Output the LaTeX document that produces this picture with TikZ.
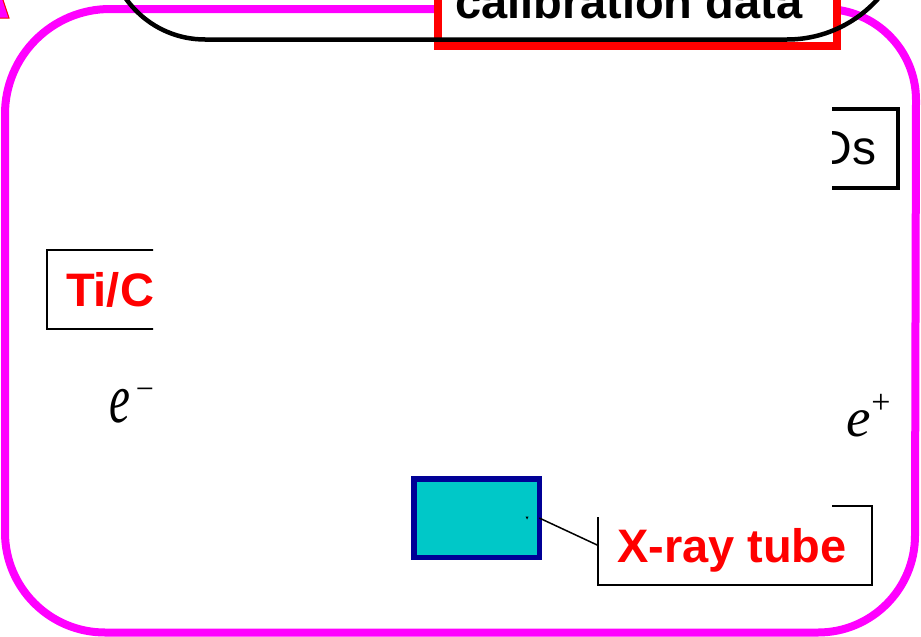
\documentclass[tikz,border=0pt]{standalone}
\usepackage{fontspec}
\setmainfont{Liberation Serif}
\setsansfont{Liberation Sans}
\usepackage{graphicx}
\definecolor{framemag}{RGB}{255,0,255}
\definecolor{labelred}{RGB}{255,0,0}
\definecolor{tubecyan}{RGB}{0,200,200}
\definecolor{tubenavy}{RGB}{0,0,150}
\tikzset{
  frame/.style={draw=framemag, line width=8},
  calibrim/.style={draw=black, line width=4.5},
  bigsans/.style={font=\sffamily\bfseries\fontsize{47pt}{50pt}\selectfont},
  plainsans/.style={font=\sffamily\fontsize{48pt}{50pt}\selectfont},
  calbox/.style={bigsans, draw=labelred, line width=8, fill=white, text=black,
    inner xsep=0, inner ysep=0, outer sep=0, text height=90pt, text depth=28pt},
  redlabel/.style={bigsans, draw=black, line width=2, fill=white, text=labelred,
    inner xsep=0, inner ysep=0, outer sep=0},
  blacklabel/.style={plainsans, draw=black, line width=3.5, fill=white, text=black,
    inner xsep=0, inner ysep=0, outer sep=0},
  tubebox/.style={draw=tubenavy, fill=tubecyan, line width=5.5,
    minimum width=125.5pt, minimum height=78.5pt, inner sep=0, outer sep=0},
  particle/.style={inner sep=0, outer sep=0, anchor=base west},
  leader/.style={draw=black, line width=1.5}
}
\begin{document}
\begin{tikzpicture}[x=1pt, y=-1pt]
\useasboundingbox (0,0) rectangle (921,637);

% outer rounded frame (corners of slightly different radii)
\draw[frame] (5,114) arc[start angle=180, end angle=270, radius=105]
  -- (825,9) arc[start angle=270, end angle=360, radius=91]
  -- (915,535.5) arc[start angle=0, end angle=90, radius=97]
  -- (105,632.5) arc[start angle=90, end angle=180, radius=100]
  -- cycle;

% small marker in the corner
\filldraw[fill=framemag, draw=labelred, line width=1] (-6,18) -- (9,18) -- (1,-6) -- cycle;

% calibration data box and the rounded outline crossing it
\node[calbox, anchor=base west] (calib) at (437.5,18)
  {\hspace*{17.5pt}calibration data\hspace*{35pt}};
\draw[calibrim] (108,-150) -- (108,-57.5)
  arc[start angle=180, end angle=90, radius=97] -- (787,39.5)
  arc[start angle=90, end angle=0, radius=122] -- (909,-150);

% labels, partly hidden by the blank central area
\begin{scope}[even odd rule]
  \clip (-20,-20) rectangle (941,657) (153,60) rectangle (832,517);
  \node[redlabel, anchor=base west, text height=56.5pt, text depth=22.5pt] (tic) at (47,306)
    {\hspace*{19pt}Ti/C\hspace*{30pt}};
  \node[blacklabel, anchor=base east, text height=55pt, text depth=24pt] (ds) at (898,164)
    {\hspace*{30pt}Ds\hspace*{21.5pt}};
  \node[redlabel, anchor=base west, text height=56pt, text depth=22.5pt] (xlabel) at (597.7,562)
    {\hspace*{19.3pt}X-ray tube\hspace*{25.2pt}};
  \node[particle] (eminus) at (109,422)
    {\scalebox{1}[1.5]{\fontsize{47pt}{50pt}\selectfont\itshape e}\kern6pt\raisebox{23pt}{\fontsize{32pt}{34pt}\selectfont −}};
  \node[particle] (eplus) at (846,436.5)
    {\fontsize{55pt}{58pt}\selectfont\itshape e\kern1pt\upshape\raisebox{23pt}{\fontsize{34pt}{36pt}\selectfont +}};
\end{scope}

% X-ray tube and its leader line
\node[tubebox] (tube) at (476.5,518) {};
\fill (525.5,516.5) -- (528.5,516.5) -- (527,519.5) -- cycle;
\draw[leader] (tube.east) -- (xlabel.west);
\end{tikzpicture}
\end{document}
